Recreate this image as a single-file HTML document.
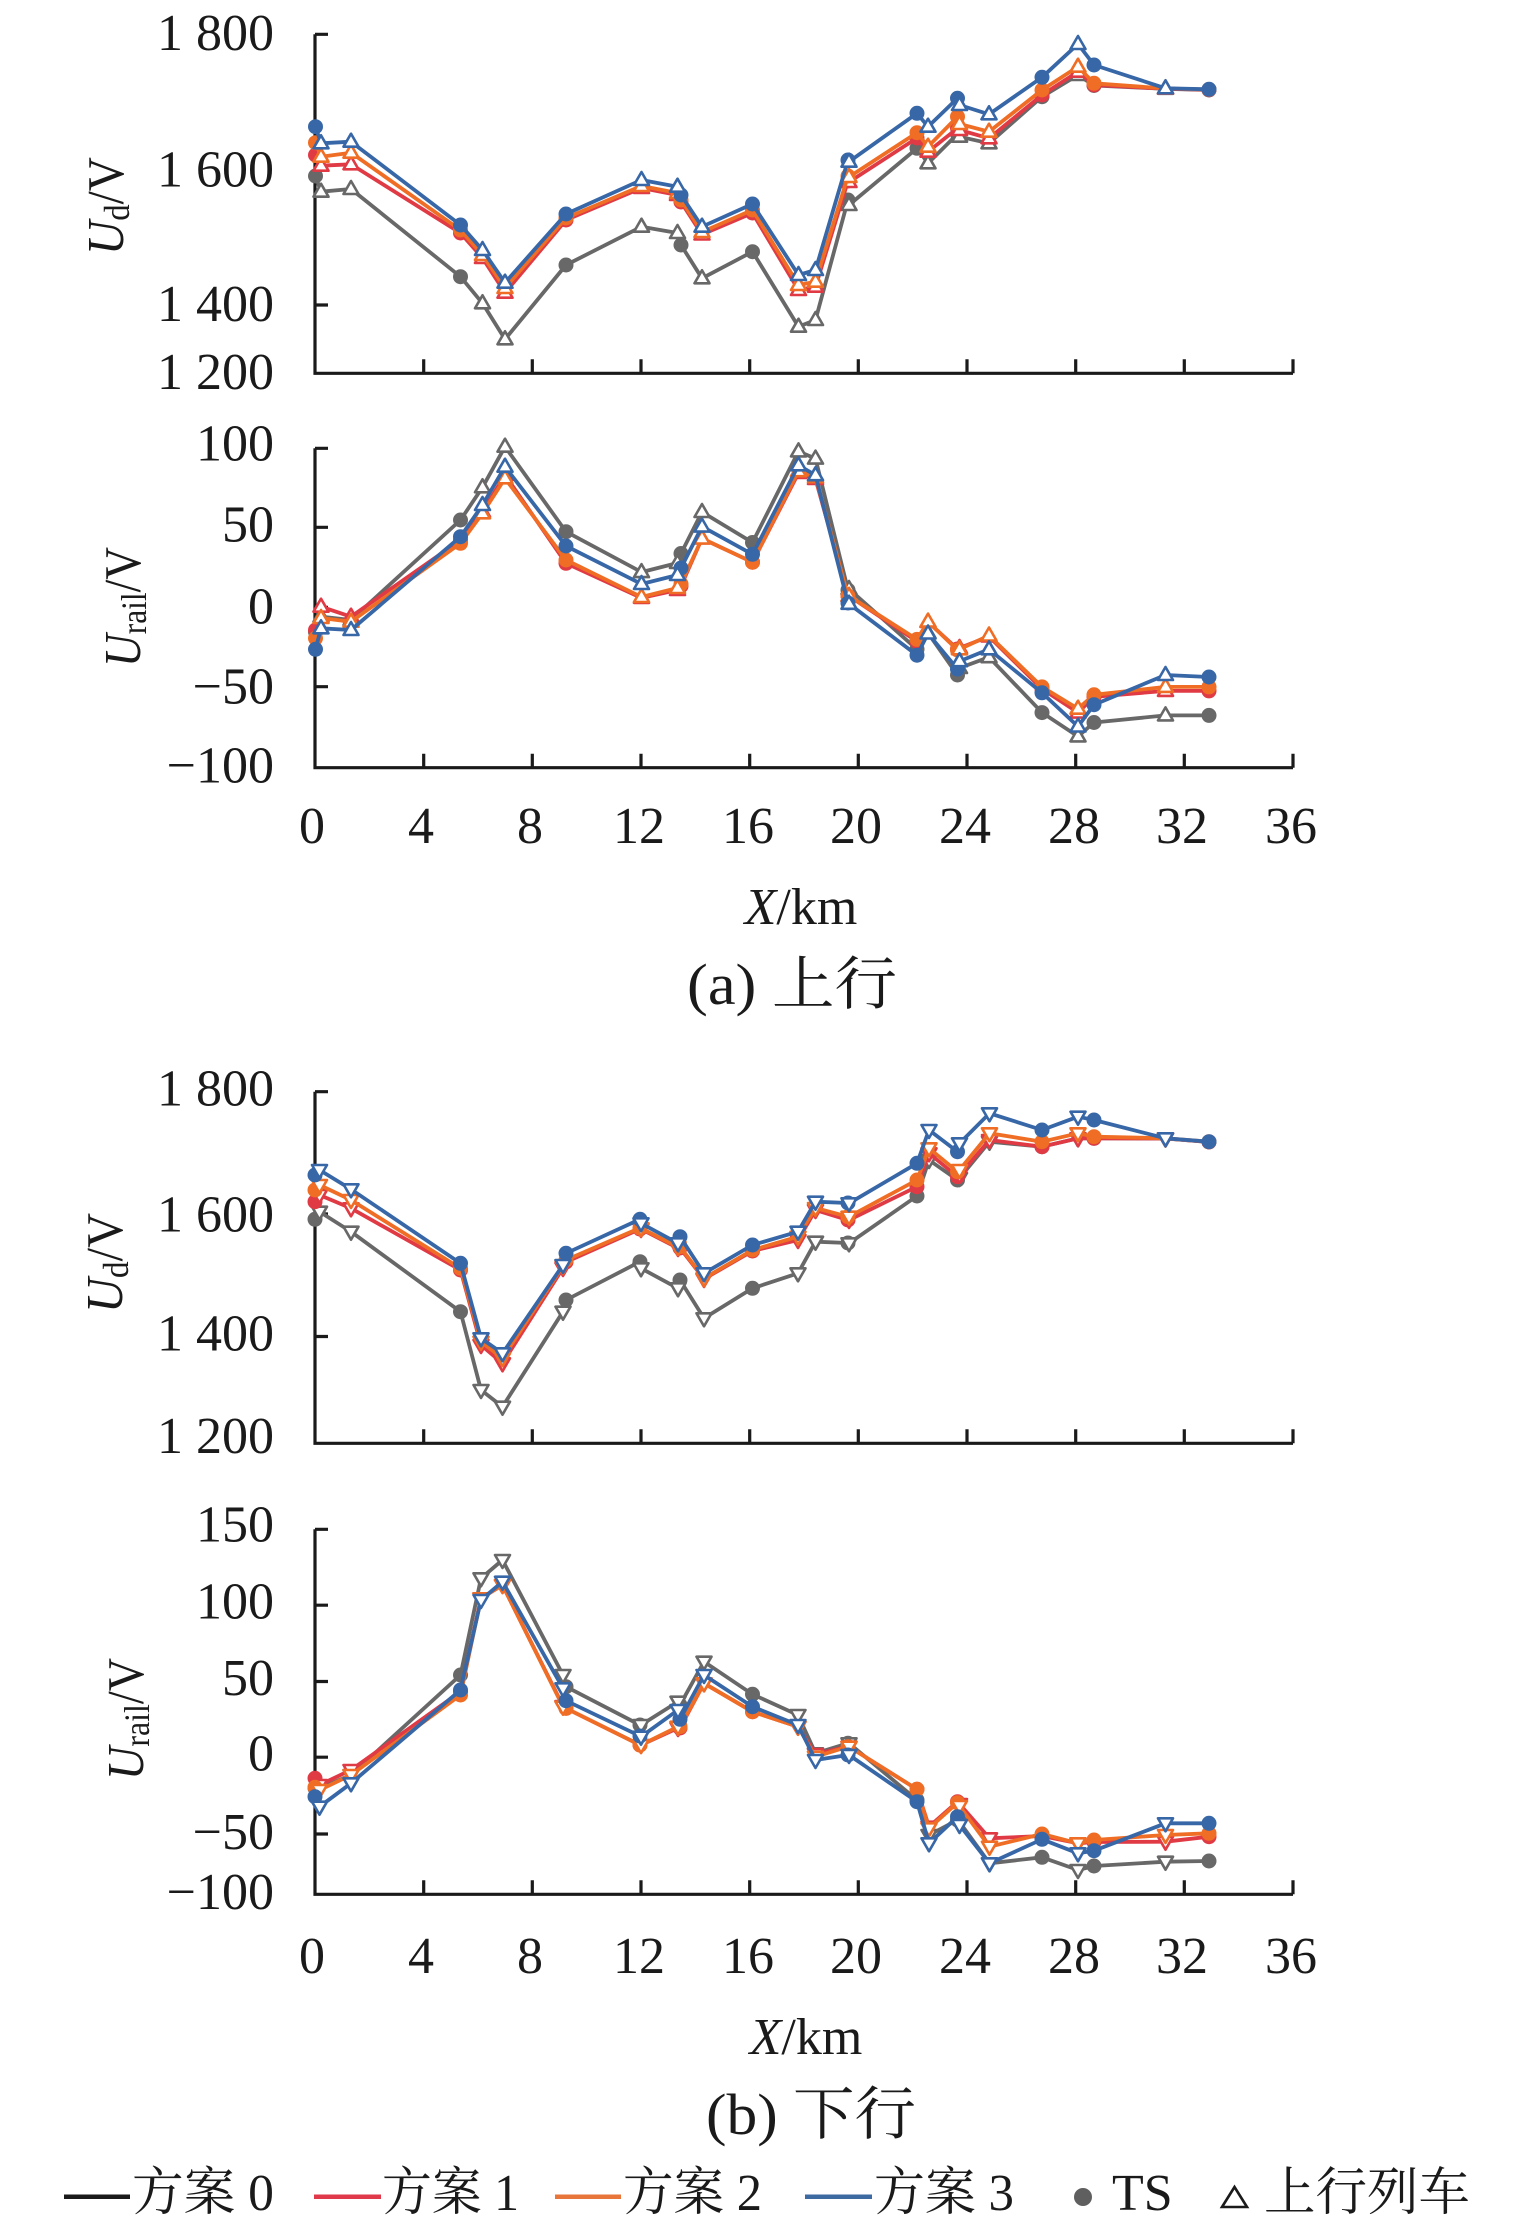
<!DOCTYPE html>
<html><head><meta charset="utf-8"><style>
html,body{margin:0;padding:0;background:#fff;}
svg{display:block;}
text{font-family:"Liberation Serif","Noto Serif CJK SC",serif;fill:#1a1a1a;}
</style></head><body>
<svg width="1535" height="2234" viewBox="0 0 1535 2234" xmlns="http://www.w3.org/2000/svg">
<defs>
<path id="tu" d="M-7.5,5 L7.5,5 L0,-8 Z"/>
<path id="td" d="M-7.5,-5 L7.5,-5 L0,8 Z"/>
</defs>
<rect width="1535" height="2234" fill="#fff"/>

<!-- ============ AXES ============ -->
<g stroke="#1a1a1a" stroke-width="3.2" fill="none">
<path d="M315,34.3 V373.3 H1293"/>
<path d="M315,34.3 H328 M315,170 H328 M315,305 H328"/>
<path d="M423.7,373.3 V359.3 M532.3,373.3 V359.3 M641,373.3 V359.3 M749.7,373.3 V359.3 M858.3,373.3 V359.3 M967,373.3 V359.3 M1075.7,373.3 V359.3 M1184.3,373.3 V359.3 M1293,373.3 V359.3"/>
<path d="M315,448.3 V767.7 H1293"/>
<path d="M315,448.3 H328 M315,527.3 H328 M315,607.3 H328 M315,686.7 H328"/>
<path d="M423.7,767.7 V753.7 M532.3,767.7 V753.7 M641,767.7 V753.7 M749.7,767.7 V753.7 M858.3,767.7 V753.7 M967,767.7 V753.7 M1075.7,767.7 V753.7 M1184.3,767.7 V753.7 M1293,767.7 V753.7"/>
<path d="M315,1091.7 V1443.3 H1293"/>
<path d="M315,1091.7 H328 M315,1214 H328 M315,1336.5 H328"/>
<path d="M423.7,1443.3 V1429.3 M532.3,1443.3 V1429.3 M641,1443.3 V1429.3 M749.7,1443.3 V1429.3 M858.3,1443.3 V1429.3 M967,1443.3 V1429.3 M1075.7,1443.3 V1429.3 M1184.3,1443.3 V1429.3 M1293,1443.3 V1429.3"/>
<path d="M315,1529.3 V1894.3 H1293"/>
<path d="M315,1529.3 H328 M315,1605.2 H328 M315,1681.5 H328 M315,1757.2 H328 M315,1834 H328"/>
<path d="M423.7,1894.3 V1880.3 M532.3,1894.3 V1880.3 M641,1894.3 V1880.3 M749.7,1894.3 V1880.3 M858.3,1894.3 V1880.3 M967,1894.3 V1880.3 M1075.7,1894.3 V1880.3 M1184.3,1894.3 V1880.3 M1293,1894.3 V1880.3"/>
</g>

<!-- ============ TICK LABELS ============ -->
<g font-size="52" text-anchor="end">
<text x="274" y="50">1 800</text>
<text x="274" y="186.5">1 600</text>
<text x="274" y="321">1 400</text>
<text x="274" y="389">1 200</text>
<text x="274" y="460.5">100</text>
<text x="274" y="541.5">50</text>
<text x="274" y="623.5">0</text>
<text x="274" y="703.5">−50</text>
<text x="274" y="782.5">−100</text>
<text x="274" y="1105.5">1 800</text>
<text x="274" y="1231.5">1 600</text>
<text x="274" y="1350.5">1 400</text>
<text x="274" y="1453">1 200</text>
<text x="274" y="1541.5">150</text>
<text x="274" y="1618.5">100</text>
<text x="274" y="1695">50</text>
<text x="274" y="1770.5">0</text>
<text x="274" y="1849">−50</text>
<text x="274" y="1909">−100</text>
</g>
<g font-size="52" text-anchor="middle">
<text x="312" y="843">0</text><text x="421" y="843">4</text><text x="530" y="843">8</text><text x="639" y="843">12</text><text x="748" y="843">16</text><text x="856" y="843">20</text><text x="965" y="843">24</text><text x="1074" y="843">28</text><text x="1182" y="843">32</text><text x="1291" y="843">36</text>
<text x="312" y="1973">0</text><text x="421" y="1973">4</text><text x="530" y="1973">8</text><text x="639" y="1973">12</text><text x="748" y="1973">16</text><text x="856" y="1973">20</text><text x="965" y="1973">24</text><text x="1074" y="1973">28</text><text x="1182" y="1973">32</text><text x="1291" y="1973">36</text>
</g>

<g font-size="52" text-anchor="middle">
<text x="801" y="924"><tspan font-style="italic">X</tspan>/km</text>
<text x="806" y="2054"><tspan font-style="italic">X</tspan>/km</text>
</g>
<g font-size="52">
<text transform="translate(123,206) rotate(-90)" text-anchor="middle" textLength="98" lengthAdjust="spacingAndGlyphs"><tspan font-style="italic">U</tspan><tspan font-size="36" dy="6">d</tspan><tspan dy="-6">/V</tspan></text>
<text transform="translate(140,607) rotate(-90)" text-anchor="middle" textLength="120" lengthAdjust="spacingAndGlyphs"><tspan font-style="italic">U</tspan><tspan font-size="36" dy="6">rail</tspan><tspan dy="-6">/V</tspan></text>
<text transform="translate(122,1263) rotate(-90)" text-anchor="middle" textLength="100" lengthAdjust="spacingAndGlyphs"><tspan font-style="italic">U</tspan><tspan font-size="36" dy="6">d</tspan><tspan dy="-6">/V</tspan></text>
<text transform="translate(143,1719) rotate(-90)" text-anchor="middle" textLength="122" lengthAdjust="spacingAndGlyphs"><tspan font-style="italic">U</tspan><tspan font-size="36" dy="6">rail</tspan><tspan dy="-6">/V</tspan></text>
</g>

<g font-size="58" text-anchor="middle">
<text x="792" y="1004" textLength="210" lengthAdjust="spacingAndGlyphs">(a) 上行</text>
<text x="811" y="2134" textLength="210" lengthAdjust="spacingAndGlyphs">(b) 下行</text>
</g>

<!-- ============ PANEL A (Ud up) ============ -->
<g stroke-linejoin="round">
<polyline fill="none" stroke="#686868" stroke-width="3.8" points="315.5,176 321,191.7 351,189 460.5,276.7 482.5,303.3 505,339.3 566,265 641.5,226.7 677.5,233 681,245 702,278.3 752.5,251.7 798.5,326.7 815.5,320 848,200 849,205 917,148.3 928,163.3 957.5,134 959.5,136.7 989,143.3 1042,96.7 1078,75 1094,85.5 1165.5,88.8 1209,90"/>
<g fill="#686868"><circle cx="315.5" cy="176" r="7.5"/><circle cx="460.5" cy="276.7" r="7.5"/><circle cx="566" cy="265" r="7.5"/><circle cx="681" cy="245" r="7.5"/><circle cx="752.5" cy="251.7" r="7.5"/><circle cx="848" cy="200" r="7.5"/><circle cx="917" cy="148.3" r="7.5"/><circle cx="957.5" cy="134" r="7.5"/><circle cx="1042" cy="96.7" r="7.5"/><circle cx="1094" cy="85.5" r="7.5"/><circle cx="1209" cy="90" r="7.5"/></g>
<g fill="#fff" stroke="#686868" stroke-width="2.6"><use href="#tu" x="321" y="191.7"/><use href="#tu" x="351" y="189"/><use href="#tu" x="482.5" y="303.3"/><use href="#tu" x="505" y="339.3"/><use href="#tu" x="641.5" y="226.7"/><use href="#tu" x="677.5" y="233"/><use href="#tu" x="702" y="278.3"/><use href="#tu" x="798.5" y="326.7"/><use href="#tu" x="815.5" y="320"/><use href="#tu" x="849" y="205"/><use href="#tu" x="928" y="163.3"/><use href="#tu" x="959.5" y="136.7"/><use href="#tu" x="989" y="143.3"/><use href="#tu" x="1078" y="75"/><use href="#tu" x="1165.5" y="88.8"/></g>

<polyline fill="none" stroke="#e03a45" stroke-width="3.8" points="315.5,155 321,165.7 351,164.3 460.5,233 482.5,258 505,292.7 566,220 641.5,188 677.5,195 681,202 702,234.5 752.5,213 798.5,290 815.5,286.7 848,181 849,182 917,138 928,151.7 957.5,128.3 959.5,130 989,138.3 1042,95 1078,71.7 1094,85 1165.5,88.7 1209,89.7"/>
<g fill="#e03a45"><circle cx="315.5" cy="155" r="7.5"/><circle cx="460.5" cy="233" r="7.5"/><circle cx="566" cy="220" r="7.5"/><circle cx="681" cy="202" r="7.5"/><circle cx="752.5" cy="213" r="7.5"/><circle cx="848" cy="181" r="7.5"/><circle cx="917" cy="138" r="7.5"/><circle cx="957.5" cy="128.3" r="7.5"/><circle cx="1042" cy="95" r="7.5"/><circle cx="1094" cy="85" r="7.5"/><circle cx="1209" cy="89.7" r="7.5"/></g>
<g fill="#fff" stroke="#e03a45" stroke-width="2.6"><use href="#tu" x="321" y="165.7"/><use href="#tu" x="351" y="164.3"/><use href="#tu" x="482.5" y="258"/><use href="#tu" x="505" y="292.7"/><use href="#tu" x="641.5" y="188"/><use href="#tu" x="677.5" y="195"/><use href="#tu" x="702" y="234.5"/><use href="#tu" x="798.5" y="290"/><use href="#tu" x="815.5" y="286.7"/><use href="#tu" x="849" y="182"/><use href="#tu" x="928" y="151.7"/><use href="#tu" x="959.5" y="130"/><use href="#tu" x="989" y="138.3"/><use href="#tu" x="1078" y="71.7"/><use href="#tu" x="1165.5" y="88.7"/></g>

<polyline fill="none" stroke="#ef6d24" stroke-width="3.8" points="315.5,142.7 321,156.7 351,152.7 460.5,230 482.5,255 505,288 566,218 641.5,186 677.5,193 681,200 702,232 752.5,210 798.5,285 815.5,281.7 848,176 849,177 917,132.7 928,146.7 957.5,116.7 959.5,124 989,131.7 1042,90 1078,66.7 1094,83.3 1165.5,88.5 1209,89.5"/>
<g fill="#ef6d24"><circle cx="315.5" cy="142.7" r="7.5"/><circle cx="460.5" cy="230" r="7.5"/><circle cx="566" cy="218" r="7.5"/><circle cx="681" cy="200" r="7.5"/><circle cx="752.5" cy="210" r="7.5"/><circle cx="848" cy="176" r="7.5"/><circle cx="917" cy="132.7" r="7.5"/><circle cx="957.5" cy="116.7" r="7.5"/><circle cx="1042" cy="90" r="7.5"/><circle cx="1094" cy="83.3" r="7.5"/><circle cx="1209" cy="89.5" r="7.5"/></g>
<g fill="#fff" stroke="#ef6d24" stroke-width="2.6"><use href="#tu" x="321" y="156.7"/><use href="#tu" x="351" y="152.7"/><use href="#tu" x="482.5" y="255"/><use href="#tu" x="505" y="288"/><use href="#tu" x="641.5" y="186"/><use href="#tu" x="677.5" y="193"/><use href="#tu" x="702" y="232"/><use href="#tu" x="798.5" y="285"/><use href="#tu" x="815.5" y="281.7"/><use href="#tu" x="849" y="177"/><use href="#tu" x="928" y="146.7"/><use href="#tu" x="959.5" y="124"/><use href="#tu" x="989" y="131.7"/><use href="#tu" x="1078" y="66.7"/><use href="#tu" x="1165.5" y="88.5"/></g>

<polyline fill="none" stroke="#3867a7" stroke-width="3.8" points="315.5,126.7 321,143.3 351,141.7 460.5,225 482.5,250 505,282.7 566,214 641.5,180 677.5,186.7 681,195 702,226.7 752.5,204 798.5,275 815.5,270 848,160 849,161.7 917,113.3 928,126.7 957.5,98.3 959.5,105 989,114.3 1042,77.3 1078,44 1094,65 1165.5,88.3 1209,89.3"/>
<g fill="#3867a7"><circle cx="315.5" cy="126.7" r="7.5"/><circle cx="460.5" cy="225" r="7.5"/><circle cx="566" cy="214" r="7.5"/><circle cx="681" cy="195" r="7.5"/><circle cx="752.5" cy="204" r="7.5"/><circle cx="848" cy="160" r="7.5"/><circle cx="917" cy="113.3" r="7.5"/><circle cx="957.5" cy="98.3" r="7.5"/><circle cx="1042" cy="77.3" r="7.5"/><circle cx="1094" cy="65" r="7.5"/><circle cx="1209" cy="89.3" r="7.5"/></g>
<g fill="#fff" stroke="#3867a7" stroke-width="2.6"><use href="#tu" x="321" y="143.3"/><use href="#tu" x="351" y="141.7"/><use href="#tu" x="482.5" y="250"/><use href="#tu" x="505" y="282.7"/><use href="#tu" x="641.5" y="180"/><use href="#tu" x="677.5" y="186.7"/><use href="#tu" x="702" y="226.7"/><use href="#tu" x="798.5" y="275"/><use href="#tu" x="815.5" y="270"/><use href="#tu" x="849" y="161.7"/><use href="#tu" x="928" y="126.7"/><use href="#tu" x="959.5" y="105"/><use href="#tu" x="989" y="114.3"/><use href="#tu" x="1078" y="44"/><use href="#tu" x="1165.5" y="88.3"/></g>
</g>

<!-- ============ PANEL B (Urail up) ============ -->
<g stroke-linejoin="round">
<polyline fill="none" stroke="#686868" stroke-width="3.8" points="315.5,632 321,616.7 351,620 460.5,520 482.5,487.3 505,446.7 566,531.7 641.5,572.1 677.5,563 681,553.5 702,512 752.5,542.5 798.5,451.4 815.5,458.6 848,590 849,589 917,649.3 928,633 957.5,675 959.5,668 989,657.2 1042,712.6 1078,736.4 1094,722.5 1165.5,715.4 1209,715.4"/>
<g fill="#686868"><circle cx="315.5" cy="632" r="7.5"/><circle cx="460.5" cy="520" r="7.5"/><circle cx="566" cy="531.7" r="7.5"/><circle cx="681" cy="553.5" r="7.5"/><circle cx="752.5" cy="542.5" r="7.5"/><circle cx="848" cy="590" r="7.5"/><circle cx="917" cy="649.3" r="7.5"/><circle cx="957.5" cy="675" r="7.5"/><circle cx="1042" cy="712.6" r="7.5"/><circle cx="1094" cy="722.5" r="7.5"/><circle cx="1209" cy="715.4" r="7.5"/></g>
<g fill="#fff" stroke="#686868" stroke-width="2.6"><use href="#tu" x="321" y="616.7"/><use href="#tu" x="351" y="620"/><use href="#tu" x="482.5" y="487.3"/><use href="#tu" x="505" y="446.7"/><use href="#tu" x="641.5" y="572.1"/><use href="#tu" x="677.5" y="563"/><use href="#tu" x="702" y="512"/><use href="#tu" x="798.5" y="451.4"/><use href="#tu" x="815.5" y="458.6"/><use href="#tu" x="849" y="589"/><use href="#tu" x="928" y="633"/><use href="#tu" x="959.5" y="668"/><use href="#tu" x="989" y="657.2"/><use href="#tu" x="1078" y="736.4"/><use href="#tu" x="1165.5" y="715.4"/></g>

<polyline fill="none" stroke="#e03a45" stroke-width="3.8" points="315.5,630 321,606.7 351,616.7 460.5,540 482.5,511.7 505,475 566,563.3 641.5,597.9 677.5,590 681,586 702,538.5 752.5,562.2 798.5,473 815.5,479 848,596 849,596 917,641.4 928,622 957.5,649 959.5,648 989,636.5 1042,688.9 1078,712.6 1094,696.8 1165.5,690.9 1209,690.9"/>
<g fill="#e03a45"><circle cx="315.5" cy="630" r="7.5"/><circle cx="460.5" cy="540" r="7.5"/><circle cx="566" cy="563.3" r="7.5"/><circle cx="681" cy="586" r="7.5"/><circle cx="752.5" cy="562.2" r="7.5"/><circle cx="848" cy="596" r="7.5"/><circle cx="917" cy="641.4" r="7.5"/><circle cx="957.5" cy="649" r="7.5"/><circle cx="1042" cy="688.9" r="7.5"/><circle cx="1094" cy="696.8" r="7.5"/><circle cx="1209" cy="690.9" r="7.5"/></g>
<g fill="#fff" stroke="#e03a45" stroke-width="2.6"><use href="#tu" x="321" y="606.7"/><use href="#tu" x="351" y="616.7"/><use href="#tu" x="482.5" y="511.7"/><use href="#tu" x="505" y="475"/><use href="#tu" x="641.5" y="597.9"/><use href="#tu" x="677.5" y="590"/><use href="#tu" x="702" y="538.5"/><use href="#tu" x="798.5" y="473"/><use href="#tu" x="815.5" y="479"/><use href="#tu" x="849" y="596"/><use href="#tu" x="928" y="622"/><use href="#tu" x="959.5" y="648"/><use href="#tu" x="989" y="636.5"/><use href="#tu" x="1078" y="712.6"/><use href="#tu" x="1165.5" y="690.9"/></g>

<polyline fill="none" stroke="#ef6d24" stroke-width="3.8" points="315.5,638.3 321,618 351,621.7 460.5,543.3 482.5,513.3 505,478.3 566,560 641.5,597 677.5,588 681,584 702,538.5 752.5,562.2 798.5,471.2 815.5,477.2 848,596 849,596 917,639.4 928,621.6 957.5,650 959.5,649.3 989,635.5 1042,686.9 1078,708.7 1094,694.8 1165.5,686.9 1209,686.9"/>
<g fill="#ef6d24"><circle cx="315.5" cy="638.3" r="7.5"/><circle cx="460.5" cy="543.3" r="7.5"/><circle cx="566" cy="560" r="7.5"/><circle cx="681" cy="584" r="7.5"/><circle cx="752.5" cy="562.2" r="7.5"/><circle cx="848" cy="596" r="7.5"/><circle cx="917" cy="639.4" r="7.5"/><circle cx="957.5" cy="650" r="7.5"/><circle cx="1042" cy="686.9" r="7.5"/><circle cx="1094" cy="694.8" r="7.5"/><circle cx="1209" cy="686.9" r="7.5"/></g>
<g fill="#fff" stroke="#ef6d24" stroke-width="2.6"><use href="#tu" x="321" y="618"/><use href="#tu" x="351" y="621.7"/><use href="#tu" x="482.5" y="513.3"/><use href="#tu" x="505" y="478.3"/><use href="#tu" x="641.5" y="597"/><use href="#tu" x="677.5" y="588"/><use href="#tu" x="702" y="538.5"/><use href="#tu" x="798.5" y="471.2"/><use href="#tu" x="815.5" y="477.2"/><use href="#tu" x="849" y="596"/><use href="#tu" x="928" y="621.6"/><use href="#tu" x="959.5" y="649.3"/><use href="#tu" x="989" y="635.5"/><use href="#tu" x="1078" y="708.7"/><use href="#tu" x="1165.5" y="686.9"/></g>

<polyline fill="none" stroke="#3867a7" stroke-width="3.8" points="315.5,649.3 321,628.3 351,630 460.5,536.7 482.5,505 505,466.7 566,546 641.5,584 677.5,575 681,568 702,526.6 752.5,554.3 798.5,465.3 815.5,475.2 848,603 849,603.8 917,655.2 928,633.5 957.5,669.1 959.5,661.2 989,649.3 1042,692.8 1078,726.5 1094,704.7 1165.5,675 1209,677"/>
<g fill="#3867a7"><circle cx="315.5" cy="649.3" r="7.5"/><circle cx="460.5" cy="536.7" r="7.5"/><circle cx="566" cy="546" r="7.5"/><circle cx="681" cy="568" r="7.5"/><circle cx="752.5" cy="554.3" r="7.5"/><circle cx="848" cy="603" r="7.5"/><circle cx="917" cy="655.2" r="7.5"/><circle cx="957.5" cy="669.1" r="7.5"/><circle cx="1042" cy="692.8" r="7.5"/><circle cx="1094" cy="704.7" r="7.5"/><circle cx="1209" cy="677" r="7.5"/></g>
<g fill="#fff" stroke="#3867a7" stroke-width="2.6"><use href="#tu" x="321" y="628.3"/><use href="#tu" x="351" y="630"/><use href="#tu" x="482.5" y="505"/><use href="#tu" x="505" y="466.7"/><use href="#tu" x="641.5" y="584"/><use href="#tu" x="677.5" y="575"/><use href="#tu" x="702" y="526.6"/><use href="#tu" x="798.5" y="465.3"/><use href="#tu" x="815.5" y="475.2"/><use href="#tu" x="849" y="603.8"/><use href="#tu" x="928" y="633.5"/><use href="#tu" x="959.5" y="661.2"/><use href="#tu" x="989" y="649.3"/><use href="#tu" x="1078" y="726.5"/><use href="#tu" x="1165.5" y="675"/></g>
</g>

<!-- ============ PANEL C (Ud down) ============ -->
<g stroke-linejoin="round">
<polyline fill="none" stroke="#686868" stroke-width="3.8" points="315,1219.3 319.5,1211.7 351,1231.7 460.5,1311.7 481,1390 502.5,1406.7 563,1311.7 566,1300 640,1261.7 641,1268.3 678,1288.3 680,1280 704,1318.3 752.5,1288.3 798,1273.3 815.5,1241.7 848,1243 849,1243.3 917,1196 929,1160 957.5,1180 959.5,1178 989.5,1141.7 1042,1146.7 1078,1138.3 1094,1138.3 1165.5,1138.5 1209,1142"/>
<g fill="#686868"><circle cx="315" cy="1219.3" r="7.5"/><circle cx="460.5" cy="1311.7" r="7.5"/><circle cx="566" cy="1300" r="7.5"/><circle cx="640" cy="1261.7" r="7.5"/><circle cx="680" cy="1280" r="7.5"/><circle cx="752.5" cy="1288.3" r="7.5"/><circle cx="848" cy="1243" r="7.5"/><circle cx="917" cy="1196" r="7.5"/><circle cx="957.5" cy="1180" r="7.5"/><circle cx="1042" cy="1146.7" r="7.5"/><circle cx="1094" cy="1138.3" r="7.5"/><circle cx="1209" cy="1142" r="7.5"/></g>
<g fill="#fff" stroke="#686868" stroke-width="2.6"><use href="#td" x="319.5" y="1211.7"/><use href="#td" x="351" y="1231.7"/><use href="#td" x="481" y="1390"/><use href="#td" x="502.5" y="1406.7"/><use href="#td" x="563" y="1311.7"/><use href="#td" x="641" y="1268.3"/><use href="#td" x="678" y="1288.3"/><use href="#td" x="704" y="1318.3"/><use href="#td" x="798" y="1273.3"/><use href="#td" x="815.5" y="1241.7"/><use href="#td" x="849" y="1243.3"/><use href="#td" x="929" y="1160"/><use href="#td" x="959.5" y="1178"/><use href="#td" x="989.5" y="1141.7"/><use href="#td" x="1078" y="1138.3"/><use href="#td" x="1165.5" y="1138.5"/></g>

<polyline fill="none" stroke="#e03a45" stroke-width="3.8" points="315,1201.7 319.5,1195 351,1208.3 460.5,1270 481,1345 502.5,1363.3 563,1268 566,1262 640,1229 641,1229 678,1248 680,1248 704,1279 752.5,1251 798,1240 815.5,1210 848,1220 849,1220 917,1186.7 929,1153.3 957.5,1176.7 959.5,1175 989.5,1140 1042,1146.7 1078,1138.3 1094,1138.3 1165.5,1138.5 1209,1142"/>
<g fill="#e03a45"><circle cx="315" cy="1201.7" r="7.5"/><circle cx="460.5" cy="1270" r="7.5"/><circle cx="566" cy="1262" r="7.5"/><circle cx="640" cy="1229" r="7.5"/><circle cx="680" cy="1248" r="7.5"/><circle cx="752.5" cy="1251" r="7.5"/><circle cx="848" cy="1220" r="7.5"/><circle cx="917" cy="1186.7" r="7.5"/><circle cx="957.5" cy="1176.7" r="7.5"/><circle cx="1042" cy="1146.7" r="7.5"/><circle cx="1094" cy="1138.3" r="7.5"/><circle cx="1209" cy="1142" r="7.5"/></g>
<g fill="#fff" stroke="#e03a45" stroke-width="2.6"><use href="#td" x="319.5" y="1195"/><use href="#td" x="351" y="1208.3"/><use href="#td" x="481" y="1345"/><use href="#td" x="502.5" y="1363.3"/><use href="#td" x="563" y="1268"/><use href="#td" x="641" y="1229"/><use href="#td" x="678" y="1248"/><use href="#td" x="704" y="1279"/><use href="#td" x="798" y="1240"/><use href="#td" x="815.5" y="1210"/><use href="#td" x="849" y="1220"/><use href="#td" x="929" y="1153.3"/><use href="#td" x="959.5" y="1175"/><use href="#td" x="989.5" y="1140"/><use href="#td" x="1078" y="1138.3"/><use href="#td" x="1165.5" y="1138.5"/></g>

<polyline fill="none" stroke="#ef6d24" stroke-width="3.8" points="315,1190 319.5,1185 351,1200 460.5,1268.3 481,1341.7 502.5,1358.3 563,1266 566,1260 640,1228 641,1228.3 678,1247 680,1246.7 704,1278.3 752.5,1250 798,1236.7 815.5,1208 848,1216.7 849,1216.7 917,1180 929,1148.3 957.5,1171.7 959.5,1170 989.5,1133.3 1042,1141.7 1078,1133.3 1094,1136.7 1165.5,1138.3 1209,1141.7"/>
<g fill="#ef6d24"><circle cx="315" cy="1190" r="7.5"/><circle cx="460.5" cy="1268.3" r="7.5"/><circle cx="566" cy="1260" r="7.5"/><circle cx="640" cy="1228" r="7.5"/><circle cx="680" cy="1246.7" r="7.5"/><circle cx="752.5" cy="1250" r="7.5"/><circle cx="848" cy="1216.7" r="7.5"/><circle cx="917" cy="1180" r="7.5"/><circle cx="957.5" cy="1171.7" r="7.5"/><circle cx="1042" cy="1141.7" r="7.5"/><circle cx="1094" cy="1136.7" r="7.5"/><circle cx="1209" cy="1141.7" r="7.5"/></g>
<g fill="#fff" stroke="#ef6d24" stroke-width="2.6"><use href="#td" x="319.5" y="1185"/><use href="#td" x="351" y="1200"/><use href="#td" x="481" y="1341.7"/><use href="#td" x="502.5" y="1358.3"/><use href="#td" x="563" y="1266"/><use href="#td" x="641" y="1228.3"/><use href="#td" x="678" y="1247"/><use href="#td" x="704" y="1278.3"/><use href="#td" x="798" y="1236.7"/><use href="#td" x="815.5" y="1208"/><use href="#td" x="849" y="1216.7"/><use href="#td" x="929" y="1148.3"/><use href="#td" x="959.5" y="1170"/><use href="#td" x="989.5" y="1133.3"/><use href="#td" x="1078" y="1133.3"/><use href="#td" x="1165.5" y="1138.3"/></g>

<polyline fill="none" stroke="#3867a7" stroke-width="3.8" points="315,1175 319.5,1170 351,1189.3 460.5,1263.3 481,1338.3 502.5,1353.3 563,1265 566,1253.3 640,1219.3 641,1223.3 678,1243.3 680,1236.7 704,1273.3 752.5,1245 798,1231.7 815.5,1201.7 848,1203 849,1203.3 917,1163.3 929,1130 957.5,1151.7 959.5,1143.3 989.5,1113.3 1042,1130 1078,1116.7 1094,1120 1165.5,1138.3 1209,1141.7"/>
<g fill="#3867a7"><circle cx="315" cy="1175" r="7.5"/><circle cx="460.5" cy="1263.3" r="7.5"/><circle cx="566" cy="1253.3" r="7.5"/><circle cx="640" cy="1219.3" r="7.5"/><circle cx="680" cy="1236.7" r="7.5"/><circle cx="752.5" cy="1245" r="7.5"/><circle cx="848" cy="1203" r="7.5"/><circle cx="917" cy="1163.3" r="7.5"/><circle cx="957.5" cy="1151.7" r="7.5"/><circle cx="1042" cy="1130" r="7.5"/><circle cx="1094" cy="1120" r="7.5"/><circle cx="1209" cy="1141.7" r="7.5"/></g>
<g fill="#fff" stroke="#3867a7" stroke-width="2.6"><use href="#td" x="319.5" y="1170"/><use href="#td" x="351" y="1189.3"/><use href="#td" x="481" y="1338.3"/><use href="#td" x="502.5" y="1353.3"/><use href="#td" x="563" y="1265"/><use href="#td" x="641" y="1223.3"/><use href="#td" x="678" y="1243.3"/><use href="#td" x="704" y="1273.3"/><use href="#td" x="798" y="1231.7"/><use href="#td" x="815.5" y="1201.7"/><use href="#td" x="849" y="1203.3"/><use href="#td" x="929" y="1130"/><use href="#td" x="959.5" y="1143.3"/><use href="#td" x="989.5" y="1113.3"/><use href="#td" x="1078" y="1116.7"/><use href="#td" x="1165.5" y="1138.3"/></g>
</g>

<!-- ============ PANEL D (Urail down) ============ -->
<g stroke-linejoin="round">
<polyline fill="none" stroke="#686868" stroke-width="3.8" points="315,1788 319.5,1788.3 351,1775 460.5,1675 481,1578.3 502.5,1560 563,1675 566,1686.7 640,1725 641,1725 678,1701.7 680,1705 704,1661.7 752.5,1694.3 798,1715 815.5,1753.3 848,1743.3 849,1743.3 917,1800 929,1835 957.5,1820 959.5,1822 989.5,1863.3 1042,1857.3 1078,1870 1094,1866 1165.5,1861.7 1209,1861"/>
<g fill="#686868"><circle cx="315" cy="1788" r="7.5"/><circle cx="460.5" cy="1675" r="7.5"/><circle cx="566" cy="1686.7" r="7.5"/><circle cx="640" cy="1725" r="7.5"/><circle cx="680" cy="1705" r="7.5"/><circle cx="752.5" cy="1694.3" r="7.5"/><circle cx="848" cy="1743.3" r="7.5"/><circle cx="917" cy="1800" r="7.5"/><circle cx="957.5" cy="1820" r="7.5"/><circle cx="1042" cy="1857.3" r="7.5"/><circle cx="1094" cy="1866" r="7.5"/><circle cx="1209" cy="1861" r="7.5"/></g>
<g fill="#fff" stroke="#686868" stroke-width="2.6"><use href="#td" x="319.5" y="1788.3"/><use href="#td" x="351" y="1775"/><use href="#td" x="481" y="1578.3"/><use href="#td" x="502.5" y="1560"/><use href="#td" x="563" y="1675"/><use href="#td" x="641" y="1725"/><use href="#td" x="678" y="1701.7"/><use href="#td" x="704" y="1661.7"/><use href="#td" x="798" y="1715"/><use href="#td" x="815.5" y="1753.3"/><use href="#td" x="849" y="1743.3"/><use href="#td" x="929" y="1835"/><use href="#td" x="959.5" y="1822"/><use href="#td" x="989.5" y="1863.3"/><use href="#td" x="1078" y="1870"/><use href="#td" x="1165.5" y="1861.7"/></g>

<polyline fill="none" stroke="#e03a45" stroke-width="3.8" points="315,1778.3 319.5,1785 351,1770 460.5,1691.7 481,1598.3 502.5,1585 563,1706 566,1708.3 640,1745 641,1745 678,1728 680,1728 704,1683.3 752.5,1711.7 798,1726.7 815.5,1754 848,1746.7 849,1746.7 917,1789.3 929,1826.7 957.5,1801.7 959.5,1804 989.5,1838.3 1042,1836 1078,1843.3 1094,1842 1165.5,1841.7 1209,1836.7"/>
<g fill="#e03a45"><circle cx="315" cy="1778.3" r="7.5"/><circle cx="460.5" cy="1691.7" r="7.5"/><circle cx="566" cy="1708.3" r="7.5"/><circle cx="640" cy="1745" r="7.5"/><circle cx="680" cy="1728" r="7.5"/><circle cx="752.5" cy="1711.7" r="7.5"/><circle cx="848" cy="1746.7" r="7.5"/><circle cx="917" cy="1789.3" r="7.5"/><circle cx="957.5" cy="1801.7" r="7.5"/><circle cx="1042" cy="1836" r="7.5"/><circle cx="1094" cy="1842" r="7.5"/><circle cx="1209" cy="1836.7" r="7.5"/></g>
<g fill="#fff" stroke="#e03a45" stroke-width="2.6"><use href="#td" x="319.5" y="1785"/><use href="#td" x="351" y="1770"/><use href="#td" x="481" y="1598.3"/><use href="#td" x="502.5" y="1585"/><use href="#td" x="563" y="1706"/><use href="#td" x="641" y="1745"/><use href="#td" x="678" y="1728"/><use href="#td" x="704" y="1683.3"/><use href="#td" x="798" y="1726.7"/><use href="#td" x="815.5" y="1754"/><use href="#td" x="849" y="1746.7"/><use href="#td" x="929" y="1826.7"/><use href="#td" x="959.5" y="1804"/><use href="#td" x="989.5" y="1838.3"/><use href="#td" x="1078" y="1843.3"/><use href="#td" x="1165.5" y="1841.7"/></g>

<polyline fill="none" stroke="#ef6d24" stroke-width="3.8" points="315,1787.3 319.5,1790 351,1775 460.5,1695 481,1598.3 502.5,1585 563,1706.7 566,1708.3 640,1745 641,1745 678,1726.7 680,1726.7 704,1683.3 752.5,1711.7 798,1726.7 815.5,1756.7 848,1746.7 849,1746.7 917,1789.3 929,1828.3 957.5,1802.7 959.5,1806 989.5,1846.7 1042,1834 1078,1843.3 1094,1840 1165.5,1835 1209,1833.3"/>
<g fill="#ef6d24"><circle cx="315" cy="1787.3" r="7.5"/><circle cx="460.5" cy="1695" r="7.5"/><circle cx="566" cy="1708.3" r="7.5"/><circle cx="640" cy="1745" r="7.5"/><circle cx="680" cy="1726.7" r="7.5"/><circle cx="752.5" cy="1711.7" r="7.5"/><circle cx="848" cy="1746.7" r="7.5"/><circle cx="917" cy="1789.3" r="7.5"/><circle cx="957.5" cy="1802.7" r="7.5"/><circle cx="1042" cy="1834" r="7.5"/><circle cx="1094" cy="1840" r="7.5"/><circle cx="1209" cy="1833.3" r="7.5"/></g>
<g fill="#fff" stroke="#ef6d24" stroke-width="2.6"><use href="#td" x="319.5" y="1790"/><use href="#td" x="351" y="1775"/><use href="#td" x="481" y="1598.3"/><use href="#td" x="502.5" y="1585"/><use href="#td" x="563" y="1706.7"/><use href="#td" x="641" y="1745"/><use href="#td" x="678" y="1726.7"/><use href="#td" x="704" y="1683.3"/><use href="#td" x="798" y="1726.7"/><use href="#td" x="815.5" y="1756.7"/><use href="#td" x="849" y="1746.7"/><use href="#td" x="929" y="1828.3"/><use href="#td" x="959.5" y="1806"/><use href="#td" x="989.5" y="1846.7"/><use href="#td" x="1078" y="1843.3"/><use href="#td" x="1165.5" y="1835"/></g>

<polyline fill="none" stroke="#3867a7" stroke-width="3.8" points="315,1796.7 319.5,1806.7 351,1783.3 460.5,1690 481,1600 502.5,1581.7 563,1688.3 566,1700.7 640,1736 641,1736.7 678,1710 680,1719.3 704,1675 752.5,1706.7 798,1725 815.5,1760 848,1755 849,1755 917,1801.7 929,1843.3 957.5,1816.7 959.5,1825 989.5,1863.3 1042,1839.3 1078,1853.3 1094,1850.7 1165.5,1823.3 1209,1823.3"/>
<g fill="#3867a7"><circle cx="315" cy="1796.7" r="7.5"/><circle cx="460.5" cy="1690" r="7.5"/><circle cx="566" cy="1700.7" r="7.5"/><circle cx="640" cy="1736" r="7.5"/><circle cx="680" cy="1719.3" r="7.5"/><circle cx="752.5" cy="1706.7" r="7.5"/><circle cx="848" cy="1755" r="7.5"/><circle cx="917" cy="1801.7" r="7.5"/><circle cx="957.5" cy="1816.7" r="7.5"/><circle cx="1042" cy="1839.3" r="7.5"/><circle cx="1094" cy="1850.7" r="7.5"/><circle cx="1209" cy="1823.3" r="7.5"/></g>
<g fill="#fff" stroke="#3867a7" stroke-width="2.6"><use href="#td" x="319.5" y="1806.7"/><use href="#td" x="351" y="1783.3"/><use href="#td" x="481" y="1600"/><use href="#td" x="502.5" y="1581.7"/><use href="#td" x="563" y="1688.3"/><use href="#td" x="641" y="1736.7"/><use href="#td" x="678" y="1710"/><use href="#td" x="704" y="1675"/><use href="#td" x="798" y="1725"/><use href="#td" x="815.5" y="1760"/><use href="#td" x="849" y="1755"/><use href="#td" x="929" y="1843.3"/><use href="#td" x="959.5" y="1825"/><use href="#td" x="989.5" y="1863.3"/><use href="#td" x="1078" y="1853.3"/><use href="#td" x="1165.5" y="1823.3"/></g>
</g>

<!-- ============ LEGEND ============ -->
<g stroke-width="4.5">
<line x1="64" y1="2196.7" x2="130" y2="2196.7" stroke="#1a1a1a"/>
<line x1="314" y1="2196.7" x2="381" y2="2196.7" stroke="#e03a4a"/>
<line x1="555" y1="2196.7" x2="621" y2="2196.7" stroke="#e8763a"/>
<line x1="805" y1="2196.7" x2="872" y2="2196.7" stroke="#3d6aa0"/>
</g>
<circle cx="1083" cy="2197" r="9" fill="#5f5f5f"/>
<path d="M1222,2207 L1247,2207 L1234.5,2187 Z" fill="#fff" stroke="#1a1a1a" stroke-width="2.6"/>
<g font-size="52">
<text x="132" y="2210" textLength="142" lengthAdjust="spacingAndGlyphs">方案 0</text>
<text x="382" y="2210" textLength="137" lengthAdjust="spacingAndGlyphs">方案 1</text>
<text x="623" y="2210" textLength="139" lengthAdjust="spacingAndGlyphs">方案 2</text>
<text x="874" y="2210" textLength="140" lengthAdjust="spacingAndGlyphs">方案 3</text>
<text x="1112" y="2210">TS</text>
<text x="1264" y="2210" textLength="206" lengthAdjust="spacingAndGlyphs">上行列车</text>
</g>
</svg>
</body></html>
